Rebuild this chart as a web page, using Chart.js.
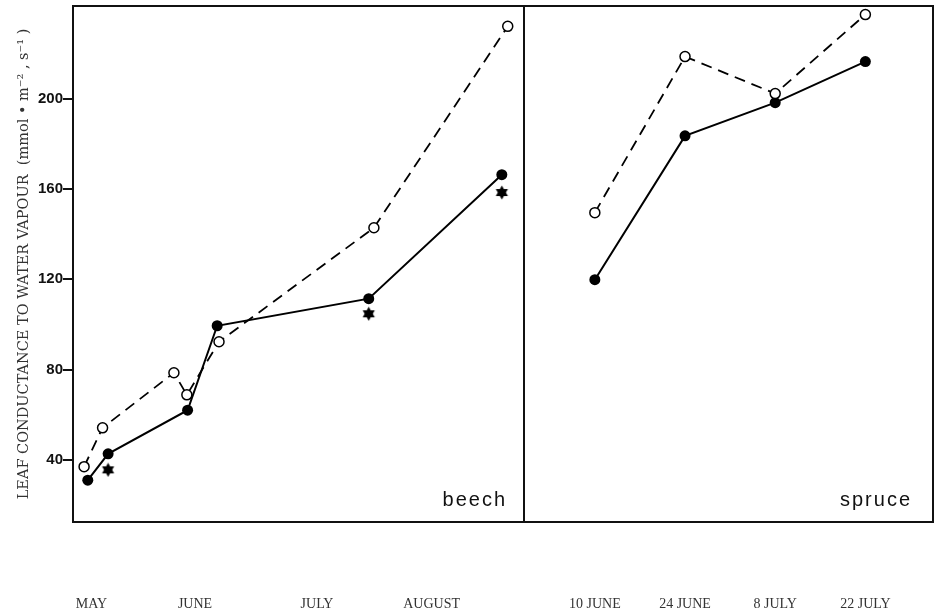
<!DOCTYPE html>
<html>
<head>
<meta charset="utf-8">
<script src="https://cdn.jsdelivr.net/npm/chart.js@4"></script>
<style>
  html, body { margin: 0; padding: 0; background: #fff; }
  body { width: 934px; height: 615px; position: relative; overflow: hidden; }
  canvas { position: absolute; top: 0; }
  #beech { left: 0; }
  #spruce { left: 520px; }
</style>
</head>
<body>
<canvas id="beech" width="530" height="615"></canvas>
<canvas id="spruce" width="414" height="615"></canvas>
<script>
// days counted from 30 April (1 = 1 May)
const beechFilledDays = [14, 19.5, 41, 49, 90, 126];
const beechFilled = [31, 42.7, 62, 99.4, 111.4, 166.3];
const beechOpenDays = [13, 18, 37.3, 40.8, 49.5, 91.4, 127.6];
const beechOpen = [37, 54.2, 78.6, 68.8, 92.3, 142.8, 232];
const beechStarDays = [19.5, 90, 126];
const beechStar = [35.6, 104.7, 158.4];
const beechMonthDays = [15, 43, 76, 107];
const beechMonths = ["MAY", "JUNE", "JULY", "AUGUST"];

const spruceDays = [41, 55, 69, 83];
const spruceDates = ["10 JUNE", "24 JUNE", "8 JULY", "22 JULY"];
const spruceFilled = [119.8, 183.5, 198.2, 216.4];
const spruceOpen = [149.5, 218.6, 202.2, 237.2];

const yTicks = [40, 80, 120, 160, 200];
const yMin = 12.5, yMax = 241;

Chart.defaults.font.family = "'Liberation Serif', serif";
Chart.defaults.color = "#222";

// filled six-pointed star for the extra beech points
function makeStar(size) {
    const c = document.createElement("canvas");
    c.width = size; c.height = size;
    const g = c.getContext("2d");
    const cx = size / 2, cy = size / 2, r = size / 2 - 0.5;
    g.fillStyle = "#000";
    [ -Math.PI / 2, Math.PI / 2 ].forEach(start => {
        g.beginPath();
        for (let i = 0; i < 3; i++) {
            const a = start + i * 2 * Math.PI / 3;
            const x = cx + r * Math.cos(a), y = cy + r * Math.sin(a);
            i === 0 ? g.moveTo(x, y) : g.lineTo(x, y);
        }
        g.closePath();
        g.fill();
    });
    return c;
}
const starImg = makeStar(15);

const pairs = (xs, ys) => xs.map((x, i) => ({ x: x, y: ys[i] }));

const framePlugin = {
    id: "frame",
    afterDraw(chart, args, opts) {
        const { ctx, chartArea: a } = chart;
        ctx.save();
        ctx.strokeStyle = "#111";
        ctx.lineWidth = 2;
        ctx.strokeRect(a.left, a.top, a.right - a.left, a.bottom - a.top);
        ctx.fillStyle = "#111";
        ctx.font = "20px 'Liberation Sans', sans-serif";
        ctx.letterSpacing = "2px";
        ctx.textAlign = "right";
        ctx.textBaseline = "alphabetic";
        ctx.fillText(opts.label, a.right - opts.dx, a.bottom - 16);
        ctx.restore();
    }
};

const filledStyle = {
    borderColor: "#000",
    borderWidth: 2,
    pointRadius: 5.5,
    pointBackgroundColor: "#000",
    pointBorderWidth: 0,
    fill: false,
    tension: 0
};
const openStyle = {
    borderColor: "#000",
    borderWidth: 1.8,
    borderDash: [11, 7],
    pointRadius: 5,
    pointBackgroundColor: "#fff",
    pointBorderColor: "#000",
    pointBorderWidth: 1.5,
    fill: false,
    tension: 0
};

function xAxis(min, max, tickDays, tickNames) {
    return {
        type: "linear",
        min: min,
        max: max,
        // tick marks hidden, their length only pushes the labels down
        grid: { display: false, drawTicks: true, tickLength: 74 },
        border: { display: false },
        afterBuildTicks: axis => { axis.ticks = tickDays.map(v => ({ value: v })); },
        afterFit: scale => { scale.height = 93; },
        ticks: {
            autoSkip: false,
            maxRotation: 0,
            padding: 0,
            color: "#333",
            font: { size: 14 },
            callback: v => tickNames[tickDays.indexOf(v)]
        }
    };
}

new Chart(document.getElementById("beech"), {
    type: "line",
    data: {
        datasets: [
            Object.assign({ data: pairs(beechOpenDays, beechOpen) }, openStyle),
            Object.assign({ data: pairs(beechFilledDays, beechFilled) }, filledStyle),
            {
                data: pairs(beechStarDays, beechStar),
                showLine: false,
                pointStyle: starImg,
                pointRadius: 7
            }
        ]
    },
    options: {
        responsive: false,
        animation: false,
        layout: { autoPadding: false, padding: { top: 6, right: 6, left: 0, bottom: 0 } },
        plugins: {
            legend: { display: false },
            tooltip: { enabled: false },
            frame: { label: "beech", dx: 17 }
        },
        scales: {
            x: xAxis(10, 132, beechMonthDays, beechMonths),
            y: {
                min: yMin,
                max: yMax,
                afterBuildTicks: axis => { axis.ticks = yTicks.map(v => ({ value: v })); },
                afterFit: scale => { scale.width = 73; },
                grid: {
                    drawOnChartArea: false,
                    drawTicks: true,
                    tickLength: 10,
                    color: "#111",
                    lineWidth: 2
                },
                border: { display: false },
                ticks: {
                    padding: 0,
                    color: "#111",
                    font: { family: "'Liberation Sans', sans-serif", size: 15, weight: "bold", lineHeight: 0.8 }
                },
                title: {
                    display: true,
                    text: "LEAF CONDUCTANCE TO WATER VAPOUR  (mmol • m⁻² , s⁻¹ )",
                    color: "#333",
                    font: { family: "'DejaVu Serif', serif", size: 14.5 },
                    padding: { top: 16, bottom: 0 }
                }
            }
        }
    },
    plugins: [framePlugin]
});

new Chart(document.getElementById("spruce"), {
    type: "line",
    data: {
        datasets: [
            Object.assign({ data: pairs(spruceDays, spruceOpen) }, openStyle),
            Object.assign({ data: pairs(spruceDays, spruceFilled) }, filledStyle)
        ]
    },
    options: {
        responsive: false,
        animation: false,
        layout: { autoPadding: false, padding: { top: 6, right: 1, left: 4, bottom: 0 } },
        plugins: {
            legend: { display: false },
            tooltip: { enabled: false },
            frame: { label: "spruce", dx: 21 }
        },
        scales: {
            x: xAxis(30, 93.5, spruceDays, spruceDates),
            y: { display: false, min: yMin, max: yMax }
        }
    },
    plugins: [framePlugin]
});
</script>
</body>
</html>
